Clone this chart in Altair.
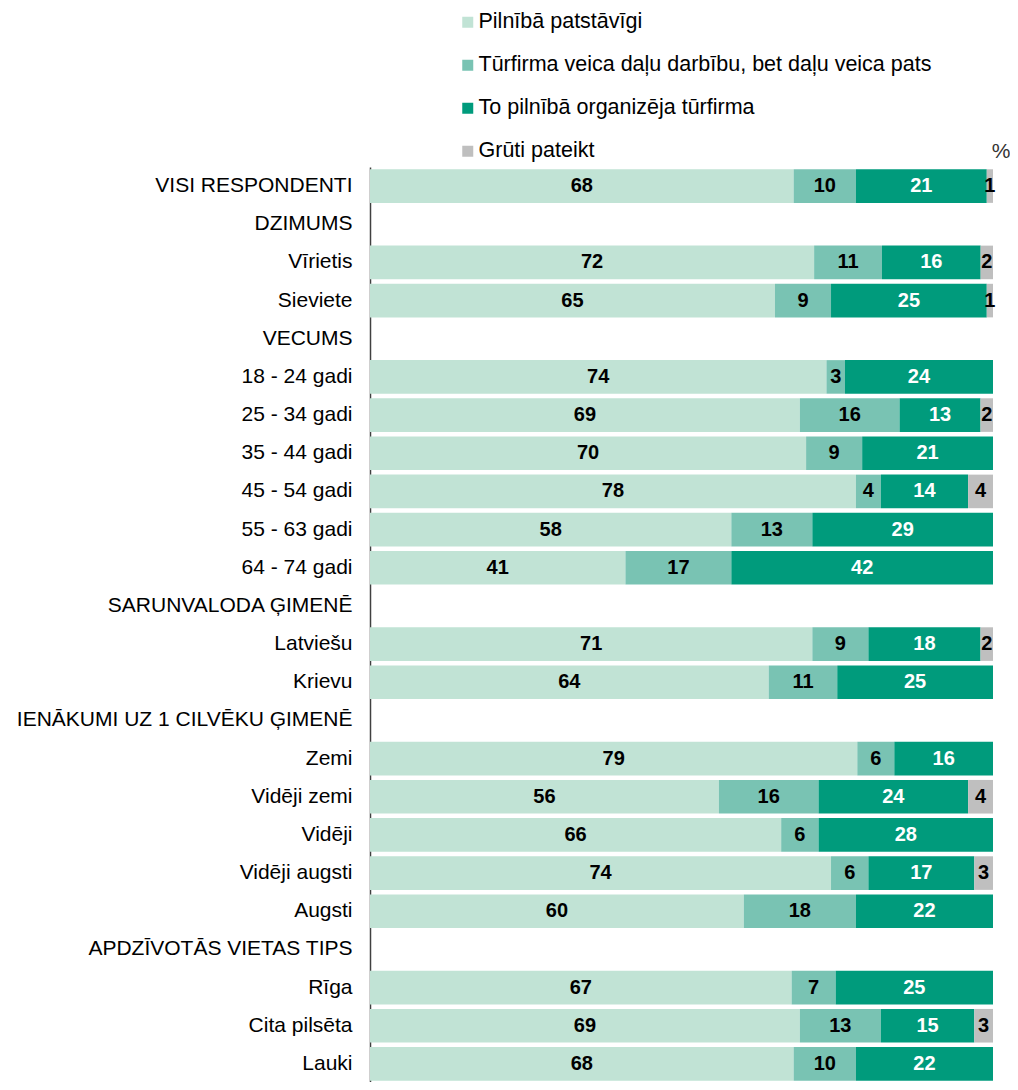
import altair as alt
import pandas as pd

rows = [
    "VISI RESPONDENTI", "DZIMUMS", "Vīrietis", "Sieviete", "VECUMS",
    "18 - 24 gadi", "25 - 34 gadi", "35 - 44 gadi", "45 - 54 gadi",
    "55 - 63 gadi", "64 - 74 gadi", "SARUNVALODA ĢIMENĒ", "Latviešu",
    "Krievu", "IENĀKUMI UZ 1 CILVĒKU ĢIMENĒ", "Zemi", "Vidēji zemi",
    "Vidēji", "Vidēji augsti", "Augsti", "APDZĪVOTĀS VIETAS TIPS",
    "Rīga", "Cita pilsēta", "Lauki",
]

series = [
    "Pilnībā patstāvīgi",
    "Tūrfirma veica daļu darbību, bet daļu veica pats",
    "To pilnībā organizēja tūrfirma",
    "Grūti pateikt",
]
colors = ["#c1e3d5", "#79c3b3", "#009b7c", "#bfbfbf"]
text_colors = ["#000000", "#000000", "#ffffff", "#000000"]

# None = header row without a bar
s1 = [68, None, 72, 65, None, 74, 69, 70, 78, 58, 41, None, 71, 64, None, 79, 56, 66, 74, 60, None, 67, 69, 68]
s2 = [10, None, 11, 9, None, 3, 16, 9, 4, 13, 17, None, 9, 11, None, 6, 16, 6, 6, 18, None, 7, 13, 10]
s3 = [21, None, 16, 25, None, 24, 13, 21, 14, 29, 42, None, 18, 25, None, 16, 24, 28, 17, 22, None, 25, 15, 22]
s4 = [1, None, 2, 1, None, 0, 2, 0, 4, 0, 0, None, 2, 0, None, 0, 4, 0, 3, 0, None, 0, 3, 0]

records = []
for i, r in enumerate(rows):
    for k, vals in enumerate([s1, s2, s3, s4]):
        v = vals[i]
        if v is None or v == 0:
            continue
        records.append({"row": r, "series": series[k], "order": k,
                        "value": v, "tcol": text_colors[k]})
df = pd.DataFrame(records)

FONT = "Liberation Sans"
YRANGE = [0, 916]

yenc = alt.Y(
    "row:N",
    sort=rows,
    scale=alt.Scale(domain=rows, range=YRANGE, paddingInner=0.12, paddingOuter=0.06),
    axis=alt.Axis(title=None, labelFontSize=21, labelFont=FONT, labelColor="#000000",
                  ticks=False, labelPadding=18, domainColor="#404040", domainWidth=1.5,
                  labelLimit=400, grid=False),
)

base = (
    alt.Chart(df)
    .transform_joinaggregate(total="sum(value)", groupby=["row"])
    .transform_calculate(pct="datum.value / datum.total")
    .transform_stack(stack="pct", groupby=["row"], sort=[alt.SortField("order")], as_=["x0", "x1"])
    .transform_calculate(mid="(datum.x0 + datum.x1) / 2")
)

bars = base.mark_bar().encode(
    x=alt.X("x0:Q", scale=alt.Scale(domain=[0, 1], nice=False, zero=True), axis=None),
    x2="x1:Q",
    y=yenc,
    color=alt.Color(
        "series:N",
        scale=alt.Scale(domain=series, range=colors),
        sort=series,
        legend=alt.Legend(
            title=None, orient="none", legendX=87, legendY=-155.5, direction="vertical",
            symbolType="square", symbolSize=121, symbolStrokeWidth=0,
            labelFontSize=21.5, labelFont=FONT, labelColor="#000000",
            rowPadding=20, padding=0, labelLimit=700, labelOffset=0,
        ),
    ),
)

labels = base.mark_text(fontWeight="bold", fontSize=20, font=FONT, baseline="middle").encode(
    x=alt.X("mid:Q", scale=alt.Scale(domain=[0, 1], nice=False, zero=True), axis=None),
    y=alt.Y("row:N", sort=rows),
    text=alt.Text("value:Q"),
    color=alt.Color("tcol:N", scale=None, legend=None),
)

pct = alt.Chart(pd.DataFrame({"t": ["%"]})).mark_text(
    fontSize=21, font=FONT, color="#333333", align="center", baseline="middle"
).encode(x=alt.value(631), y=alt.value(-15), text="t:N")

chart = (
    alt.layer(bars, labels, pct)
    .properties(
        width=623, height=915,
        autosize=alt.AutoSizeParams(type="none"),
        padding={"left": 362, "top": 159, "right": 17, "bottom": 0},
        background="#ffffff",
    )
    .configure_view(stroke=None)
)

chart.save("out.html", embed_options={"renderer": "svg", "actions": False})
